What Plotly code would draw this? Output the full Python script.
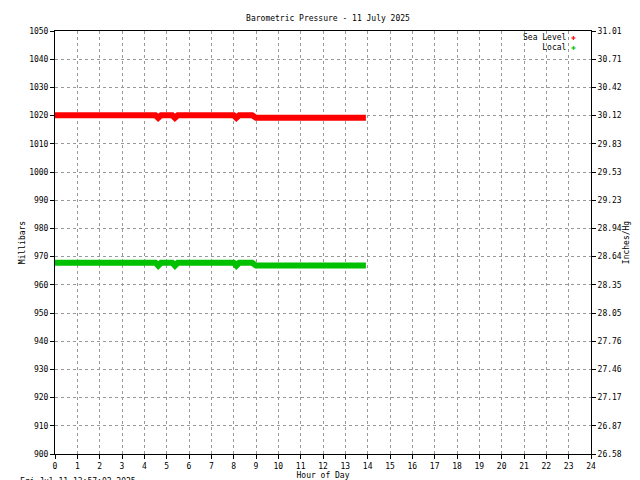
import plotly.graph_objects as go

hours = [0, 4.5, 4.62, 4.75, 5.25, 5.37, 5.5, 8.0, 8.12, 8.25, 8.83, 9.0, 13.92]
sea_level = [1020.1, 1020.1, 1019.2, 1020.1, 1020.1, 1019.2, 1020.1, 1020.1, 1019.2, 1020.1, 1020.1, 1019.2, 1019.2]
local = [967.8, 967.8, 966.8, 967.8, 967.8, 966.8, 967.8, 967.8, 966.8, 967.8, 967.8, 966.8, 966.8]
mb_ticks = list(range(900, 1051, 10))
inhg_labels = ["26.58", "26.87", "27.17", "27.46", "27.76", "28.05", "28.35", "28.64", "28.94",
               "29.23", "29.53", "29.83", "30.12", "30.42", "30.71", "31.01"]

F = dict(family="DejaVu Sans Mono", size=8, color="black")
fig = go.Figure()
fig.add_trace(go.Scatter(x=hours, y=sea_level, mode="lines", line=dict(color="#ff0000", width=6), showlegend=False))
fig.add_trace(go.Scatter(x=hours, y=local, mode="lines", line=dict(color="#00c000", width=6), showlegend=False))
fig.add_trace(go.Scatter(x=[None], y=[None], yaxis="y2", showlegend=False))

ax = dict(showline=True, linecolor="black", linewidth=1, ticks="outside", ticklen=4,
          tickcolor="black", showgrid=True, gridcolor="#999999", griddash="dot", gridwidth=1,
          zeroline=False, tickfont=F, automargin=False)
fig.update_layout(
    width=640, height=480, plot_bgcolor="white", paper_bgcolor="white",
    margin=dict(l=47, r=57, t=23, b=34),
    title=dict(text="Barometric Pressure - 11 July 2025", x=0.5, y=0.985, xanchor="center", font=F),
    xaxis=dict(ax, range=[0, 24], tickvals=list(range(25)), mirror=True,
               title=dict(text="Hour of Day", font=F, standoff=2)),
    yaxis=dict(ax, range=[900, 1050], tickvals=mb_ticks, title=dict(text="Millibars", font=F, standoff=2)),
    yaxis2=dict(ax, overlaying="y", side="right", range=[900, 1050], tickvals=mb_ticks,
                ticktext=inhg_labels, showgrid=False, title=dict(text="Inches/Hg", font=F, standoff=2)),
    annotations=[
        dict(text="Fri Jul 11 13:57:02 2025", xref="paper", yref="paper", x=-0.069, y=-0.05,
             xanchor="left", yanchor="top", showarrow=False, font=F),
        dict(text="Sea Level <span style='color:#ff0000'>✚</span><br>    Local <span style='color:#00c000'>✚</span>",
             xref="paper", yref="paper", x=0.975, y=1.0, xanchor="right", yanchor="top",
             showarrow=False, align="right", font=F),
    ],
)
fig.write_html("out.html")
